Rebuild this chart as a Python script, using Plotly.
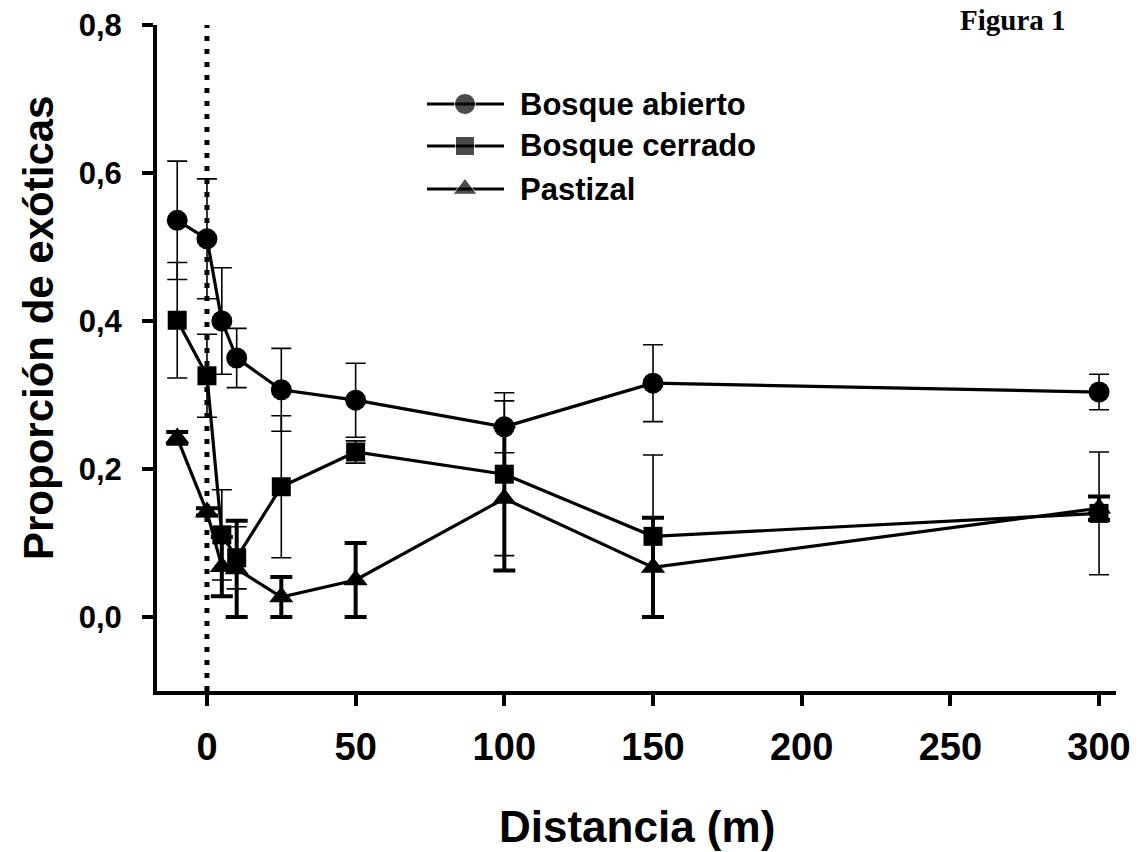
import plotly.graph_objects as go

# ---- data ----
distances = [-10, 0, 5, 10, 25, 50, 100, 150, 300]
abierto = [0.536, 0.511, 0.400, 0.350, 0.307, 0.293, 0.257, 0.316, 0.304]
abierto_err = [0.080, 0.081, 0.072, 0.040, 0.056, 0.050, 0.035, 0.052, 0.024]
cerrado = [0.401, 0.326, 0.111, 0.080, 0.176, 0.223, 0.193, 0.109, 0.140]
cerrado_err = [0.078, 0.056, 0.061, 0.042, 0.096, 0.015, 0.110, 0.110, 0.083]
pastizal = [0.242, 0.142, 0.068, 0.065, 0.027, 0.050, 0.160, 0.067, 0.147]
pastizal_err = [0.008, 0.005, 0.040, 0.065, 0.027, 0.050, 0.097, 0.067, 0.016]

series_names = ["Bosque abierto", "Bosque cerrado", "Pastizal"]
x_ticks = [0, 50, 100, 150, 200, 250, 300]
y_ticks = [0.0, 0.2, 0.4, 0.6, 0.8]

FONT = "Arial, 'Liberation Sans', sans-serif"
OFF = 8  # page body margin
W, H = 1146 - OFF, 852 - OFF
# plot area in page pixels: x 157..1116, y 25..691
PL, PR, PT, PB = 157, 1116, 25, 691
L, T = PL - OFF, PT - OFF
R = W - (PR - OFF)
B = H - (PB - OFF)

series = [
    (abierto, abierto_err, "circle", 21, 1.6, 10),
    (cerrado, cerrado_err, "square", 19, 1.6, 10),
    (pastizal, pastizal_err, "triangle-up", 21, 4, 11),
]

fig = go.Figure()
for name, (vals, errs, sym, msize, ethick, ewidth) in zip(series_names, series):
    fig.add_trace(go.Scatter(
        x=distances, y=vals, mode="lines+markers", name=name,
        line=dict(color="black", width=3.2),
        marker=dict(symbol=sym, size=msize, color="black"),
        error_y=dict(type="data", array=errs, visible=True, color="black",
                     thickness=ethick, width=ewidth),
        showlegend=False,
    ))

# helpers: page pixel -> paper coordinate
def px2paper_x(px):
    return (px - PL) / (PR - PL)

def px2paper_y(py):
    return (PB - py) / (PB - PT)

# legend drawn on an overlay axis in paper coordinates
leg_rows = [104, 146, 189]
for name, (vals, errs, sym, msize, ethick, ewidth), row in zip(series_names, series, leg_rows):
    yy = px2paper_y(row)
    fig.add_trace(go.Scatter(
        x=[px2paper_x(427), px2paper_x(465), px2paper_x(504)], y=[yy, yy, yy],
        mode="lines+markers", xaxis="x2", yaxis="y2",
        line=dict(color="black", width=3.2),
        marker=dict(symbol=sym, size=[0, msize, 0], color="black"),
        showlegend=False, hoverinfo="skip",
    ))
    fig.add_annotation(
        x=px2paper_x(518), y=yy, xref="paper", yref="paper", text=name,
        showarrow=False, xanchor="left", yanchor="middle",
        font=dict(family=FONT, size=31, color="black", weight="bold"),
    )

# dotted line at distance 0
fig.add_shape(type="line", x0=0, x1=0, y0=-0.1, y1=0.8, xref="x", yref="y",
              line=dict(color="black", width=5, dash="5px,8px"), layer="below")

axis_common = dict(
    showline=True, linecolor="black", linewidth=4,
    ticks="outside", ticklen=11, tickwidth=4, tickcolor="black",
    showgrid=False, zeroline=False, mirror=False,
    ticklabeloverflow="allow", automargin=False,
)

fig.update_layout(
    width=W, height=H,
    margin=dict(l=L, r=R, t=T, b=B, pad=0, autoexpand=False),
    paper_bgcolor="white", plot_bgcolor="white",
    separators=",.",
    xaxis=dict(range=[-16.8, 305.7], tickvals=x_ticks,
               tickfont=dict(family=FONT, size=38, color="black", weight="bold"),
               ticklabelstandoff=8, **axis_common),
    yaxis=dict(range=[-0.1, 0.8], tickvals=y_ticks, tickformat=".1f",
               tickfont=dict(family=FONT, size=31, color="black", weight="bold"),
               ticklabelstandoff=14, **axis_common),
    xaxis2=dict(range=[0, 1], domain=[0, 1], overlaying="x", visible=False,
                fixedrange=True, automargin=False),
    yaxis2=dict(range=[0, 1], domain=[0, 1], overlaying="y", visible=False,
                fixedrange=True, automargin=False),
    showlegend=False,
)

# axis titles
fig.add_annotation(
    x=0.5, y=px2paper_y(826), xref="paper", yref="paper", text="Distancia (m)",
    showarrow=False, xanchor="center", yanchor="middle",
    font=dict(family=FONT, size=44, color="black", weight="bold"),
)
fig.add_annotation(
    x=px2paper_x(38), y=px2paper_y(328), xref="paper", yref="paper",
    text="Proporción de exóticas", textangle=-90,
    showarrow=False, xanchor="center", yanchor="middle",
    font=dict(family=FONT, size=42, color="black", weight="bold"),
)
# figure label (near the top edge, as in the reference)
fig.add_annotation(
    x=px2paper_x(1013), y=px2paper_y(20), xref="paper", yref="paper", text="Figura 1",
    showarrow=False, xanchor="center", yanchor="middle",
    font=dict(family="'Times New Roman', 'Liberation Serif', serif", size=29,
              color="black", weight="bold"),
)

fig.write_html("out.html")
